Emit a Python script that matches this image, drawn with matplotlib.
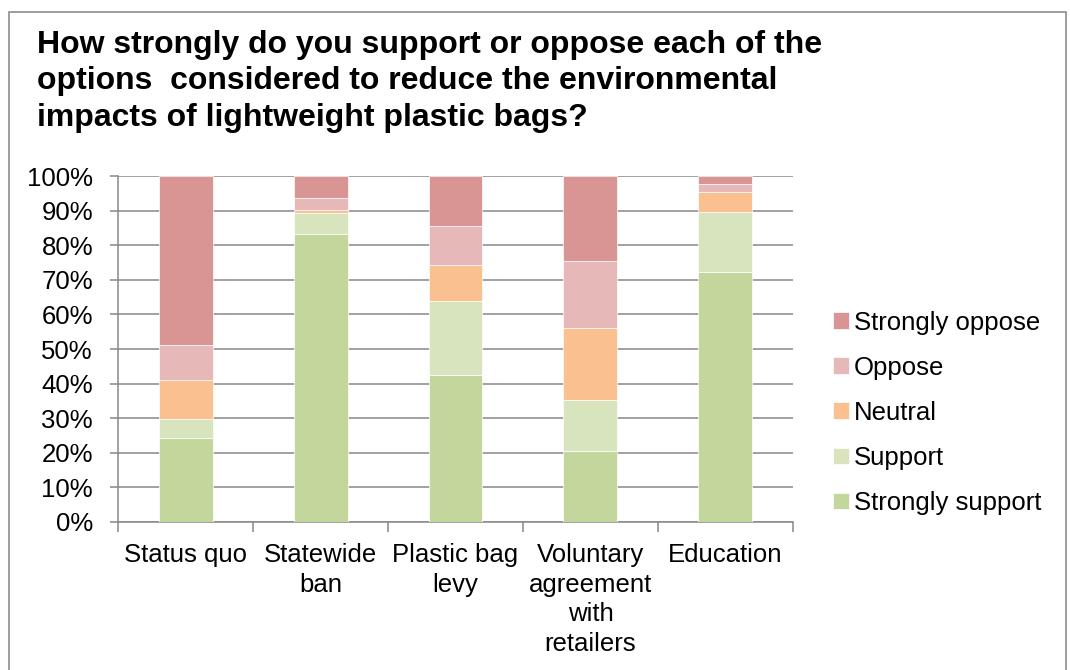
import numpy as np
import matplotlib.pyplot as plt
from matplotlib.patches import Rectangle

plt.rcParams['font.family'] = ['Liberation Sans', 'DejaVu Sans']

categories = ['Status quo', 'Statewide\nban', 'Plastic bag\nlevy',
              'Voluntary\nagreement\nwith\nretailers', 'Education']
series_names = ['Strongly support', 'Support', 'Neutral', 'Oppose', 'Strongly oppose']
strongly_support = [24.4, 83.3, 42.6, 20.6, 72.4]
support = [5.4, 5.9, 21.3, 14.7, 17.1]
neutral = [11.3, 0.9, 10.4, 20.7, 6.0]
oppose = [10.0, 3.4, 11.3, 19.5, 2.3]
strongly_oppose = [48.9, 6.5, 14.4, 24.5, 2.2]
colors = ['#C3D69B', '#D7E4BD', '#FAC090', '#E6B9B8', '#D99594']

series = [strongly_support, support, neutral, oppose, strongly_oppose]

fig = plt.figure(figsize=(10.7, 6.7), dpi=100)
ax = fig.add_axes([0.1103, 0.2209, 0.6308, 0.5164])

# outer chart border
fig.patches.append(Rectangle((0.0085, -0.05), 0.988, 1.032, transform=fig.transFigure,
                             fill=False, edgecolor='#8c8c8c', linewidth=1.2))

x = np.arange(len(categories))
bottom = np.zeros(len(categories))
handles = []
for name, vals, c in zip(series_names, series, colors):
    vals = np.array(vals)
    h = ax.bar(x, vals, 0.4, bottom=bottom, color=c, edgecolor='white',
               linewidth=0.5, label=name, zorder=3)
    handles.append(h)
    bottom += vals

ax.set_xlim(-0.5, len(categories) - 0.5)
ax.set_ylim(0, 100)
ax.set_yticks(np.arange(0, 101, 10))
ax.set_yticklabels([f'{v}%' for v in range(0, 101, 10)], fontsize=18.5)
ax.yaxis.grid(True, color='#888888', linewidth=1.1, zorder=0)
ax.set_axisbelow(True)

ax.set_xticks(x)
ax.set_xticklabels(categories, fontsize=18.5, linespacing=1.3)
ax.tick_params(axis='x', length=0, pad=15)
ax.tick_params(axis='y', length=6, color='#888888', width=1.1, pad=12, direction='out')
# category separators on the x axis
ax.set_xticks(np.arange(-0.5, len(categories), 1), minor=True)
ax.tick_params(axis='x', which='minor', length=7, color='#888888', width=1.1)

for s in ['top', 'right']:
    ax.spines[s].set_visible(False)
for s in ['left', 'bottom']:
    ax.spines[s].set_color('#888888')
    ax.spines[s].set_linewidth(1.1)

leg = fig.legend(handles[::-1], series_names[::-1], loc='upper left',
                 bbox_to_anchor=(0.757, 0.571), frameon=False, fontsize=18.5,
                 handlelength=0.6, handleheight=0.6, handletextpad=0.2,
                 labelspacing=0.82)

fig.text(0.0345, 0.955,
         'How strongly do you support or oppose each of the\n'
         'options  considered to reduce the environmental\n'
         'impacts of lightweight plastic bags?',
         fontsize=23, fontweight='bold', va='top', ha='left', linespacing=1.27)

fig.savefig('out.png', dpi=100)
